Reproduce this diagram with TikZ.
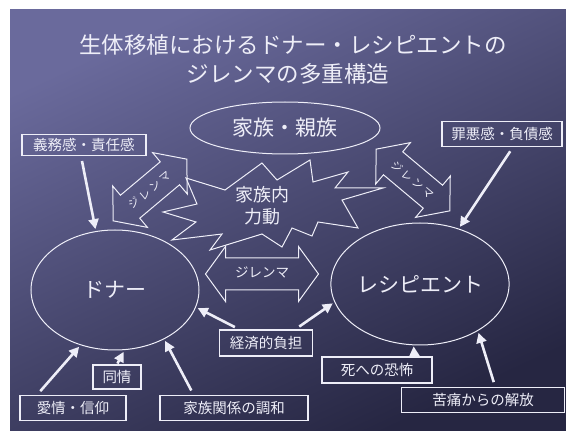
\documentclass[tikz,border=0pt]{standalone}
\usepackage{fontspec}
\setmainfont{Noto Sans CJK JP}
\usetikzlibrary{shapes.geometric,arrows.meta}
\definecolor{slidetop}{RGB}{106,106,156}
\definecolor{slidemid}{RGB}{72,72,118}
\definecolor{slidebot}{RGB}{38,38,66}
\definecolor{ink}{RGB}{238,238,248}
\begin{document}
\begin{tikzpicture}[x=1pt,y=-1pt,
  titletext/.style={text=ink, font=\fontsize{22.5}{26}\selectfont, inner sep=0pt},
  lbl/.style={draw=ink, line width=1.2pt, text=ink, font=\fontsize{14.5}{16}\selectfont, inner sep=0pt, minimum height=25pt},
  ellnode/.style={ellipse, draw=ink, line width=1pt, inner sep=0pt, text=ink, font=\fontsize{21}{24}\selectfont},
  push/.style={-{Triangle[length=10pt,width=10pt]}, line width=2.6pt, draw=ink, shorten >=2pt, shorten <=5pt},
  outline/.style={draw=ink, line width=1pt, line join=miter},
  arrtext/.style={text=ink, inner sep=0pt, font=\fontsize{11}{13}\selectfont},
  dyntext/.style={text=ink, inner sep=0pt, align=center, font=\fontsize{18}{22}\selectfont}]
\useasboundingbox (0,0) rectangle (566,433);
\fill[white] (0,0) rectangle (566,433);
\shade[top color=slidetop, middle color=slidemid, bottom color=slidebot, shading angle=25] (10,10) rectangle (566,430);

% title
\node[titletext] (t1) at (293,45) {生体移植におけるドナー・レシピエントの};
\node[titletext] (t2) at (288,74) {ジレンマの多重構造};

% main ellipses
\node[ellnode, minimum width=190pt, minimum height=52pt] (fam) at (285,128) {家族・親族};
\node[ellnode, minimum width=168pt, minimum height=120pt] (donor) at (115,290) {ドナー};
\node[ellnode, minimum width=170pt, minimum height=122pt] (recip) at (420,284) {レシピエント};

% explosion
\draw[outline] (163,212) -- (197,204) -- (186,178) -- (225,190) -- (262,163) -- (277,180)
  -- (310,160) -- (313,182) -- (348,172) -- (335,188) -- (383,188) -- (342,200)
  -- (358,228) -- (318,222) -- (312,236) -- (292,228) -- (282,247) -- (262,234)
  -- (210,250) -- (222,234) -- (172,240) -- (196,222) -- cycle;
\node[dyntext] (dyn) at (262,206) {家族内\\力動};

% double arrows
\begin{scope}[shift={(150,190)}, rotate=40]
  \draw[outline] (-48,0) -- (-26,-27) -- (-26,-15) -- (26,-15) -- (26,-27) -- (48,0)
    -- (26,27) -- (26,15) -- (-26,15) -- (-26,27) -- cycle;
\end{scope}
\node[arrtext, rotate=40] (dl1) at (150,190) {ジ\kern2.5ptレ\kern2.5ptン\kern2.5ptマ};
\begin{scope}[shift={(413,180)}, rotate=-40]
  \draw[outline] (-48,0) -- (-26,-27) -- (-26,-15) -- (26,-15) -- (26,-27) -- (48,0)
    -- (26,27) -- (26,15) -- (-26,15) -- (-26,27) -- cycle;
\end{scope}
\node[arrtext, rotate=-40] (dl2) at (413,180) {ジ\kern2.5ptレ\kern2.5ptン\kern2.5ptマ};
\begin{scope}[shift={(262,274)}]
  \draw[outline] (-56.5,0) -- (-36.5,-27.5) -- (-36.5,-16) -- (36.5,-16) -- (36.5,-27.5) -- (56.5,0)
    -- (36.5,27.5) -- (36.5,16) -- (-36.5,16) -- (-36.5,27.5) -- cycle;
\end{scope}
\node[arrtext, font=\fontsize{13.5}{15}\selectfont] (dl3) at (262,272) {ジレンマ};

% labelled boxes
\node[lbl, minimum width=124pt, minimum height=21pt] (gimu) at (84,145) {義務感・責任感};
\node[lbl, minimum width=120pt] (zaiaku) at (502,134) {罪悪感・負債感};
\node[lbl, minimum width=93pt, minimum height=26pt] (keizai) at (266,343) {経済的負担};
\node[lbl, minimum width=48pt, minimum height=24pt] (doujou) at (117,377) {同情};
\node[lbl, minimum width=106pt] (aijou) at (73,408) {愛情・信仰};
\node[lbl, minimum width=148pt] (kankei) at (234,408) {家族関係の調和};
\node[lbl, minimum width=110pt, minimum height=26pt] (shi) at (377,370) {死への恐怖};
\node[lbl, minimum width=163pt] (kutsuu) at (483,400) {苦痛からの解放};

% pushing arrows
\draw[push] (gimu.255) -- (donor.108);
\draw[push] (zaiaku.-50) -- (recip.55);
\draw[push] (keizai.153) -- (donor.-12);
\draw[push] (keizai.25) -- (recip.192);
\draw[push, shorten <=1pt] (doujou.north) -- (donor.-81);
\draw[push] (aijou.160) -- (donor.-122);
\draw[push] (kankei.162) -- (donor.-45);
\draw[push, shorten <=0pt, shorten >=1pt] (shi.20) -- (recip.-96);
\draw[push] (kutsuu.47) -- (recip.-39);
\end{tikzpicture}
\end{document}
